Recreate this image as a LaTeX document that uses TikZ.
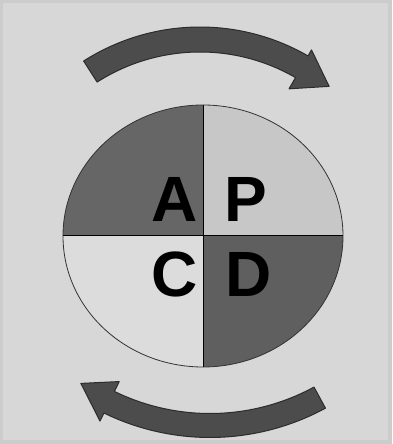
\documentclass[tikz,border=0pt]{standalone}
\usepackage{fontspec}
\usepackage{pdfrender}
\setmainfont{Liberation Sans}
\usetikzlibrary{shapes.geometric}
\definecolor{bgouter}{HTML}{CCCCCC}
\definecolor{bginner}{HTML}{D7D7D7}
\definecolor{qdark}{HTML}{666666}
\definecolor{qdarkb}{HTML}{5F5F5F}
\definecolor{qlight}{HTML}{C7C7C7}
\definecolor{qlighter}{HTML}{DCDCDC}
\definecolor{arrowfill}{HTML}{4C4C4C}
\definecolor{arrowline}{HTML}{2C2C2C}
\newcommand{\heavytext}[1]{\textpdfrender{TextRenderingMode=FillStroke,LineWidth=1.5pt,LineJoin=1}{#1}}
\tikzset{
  bigarrow/.style={fill=arrowfill, draw=arrowline, line width=1pt, line join=round},
  letter/.style={inner sep=0pt, anchor=base, font=\fontsize{64}{64}\selectfont\bfseries},
  divider/.style={draw=black, line width=1pt},
}
\begin{document}
\begin{tikzpicture}[x=1pt,y=1pt]
\useasboundingbox (0,0) rectangle (392,444);
% background
\fill[bgouter] (0,0) rectangle (392,444);
\fill[bginner] (3,4) rectangle (388,441);
% top arrow
\draw[bigarrow] ([shift={(200,201)}]122.6:216) arc[start angle=122.6, end angle=60, radius=216]
  -- ([shift={(200,201)}]60:223) -- ([shift={(200,201)}]50.5:203) -- ([shift={(200,201)}]60:178)
  -- ([shift={(200,201)}]60:191) arc[start angle=60, end angle=122.6, radius=191] -- cycle;
% bottom arrow
\draw[bigarrow] ([shift={(210,248.5)}]-61.5:242) arc[start angle=-61.5, end angle=-116, radius=242]
  -- ([shift={(210,248.5)}]-116:251) -- ([shift={(210,248.5)}]-124.5:228) -- ([shift={(210,248.5)}]-116:207)
  -- ([shift={(210,248.5)}]-116:218) arc[start angle=-116, end angle=-61.5, radius=218] -- cycle;
% circle quadrants
\begin{scope}
  \clip (203,208) ellipse[x radius=140, y radius=131];
  \fill[qdark] (203,208) rectangle (60,345);
  \fill[qlight] (203,208) rectangle (350,345);
  \fill[qlighter] (203,208) rectangle (60,70);
  \fill[qdarkb] (203,208) rectangle (350,70);
\end{scope}
\node[ellipse, draw=black!80, line width=0.8pt, minimum width=280pt, minimum height=262pt, inner sep=0pt] (E) at (203,208) {};
\draw[divider] (E.north) -- (E.south);
\draw[divider] (E.west) -- (E.east);
% letters
\node[letter] (A) at (174.5,222.5) {\heavytext{A}};
\node[letter] (P) at (245.5,222.5) {\heavytext{P}};
\node[letter] (C) at (174.5,147.5) {\heavytext{C}};
\node[letter] (D) at (249,147.5) {\heavytext{D}};
\end{tikzpicture}
\end{document}
